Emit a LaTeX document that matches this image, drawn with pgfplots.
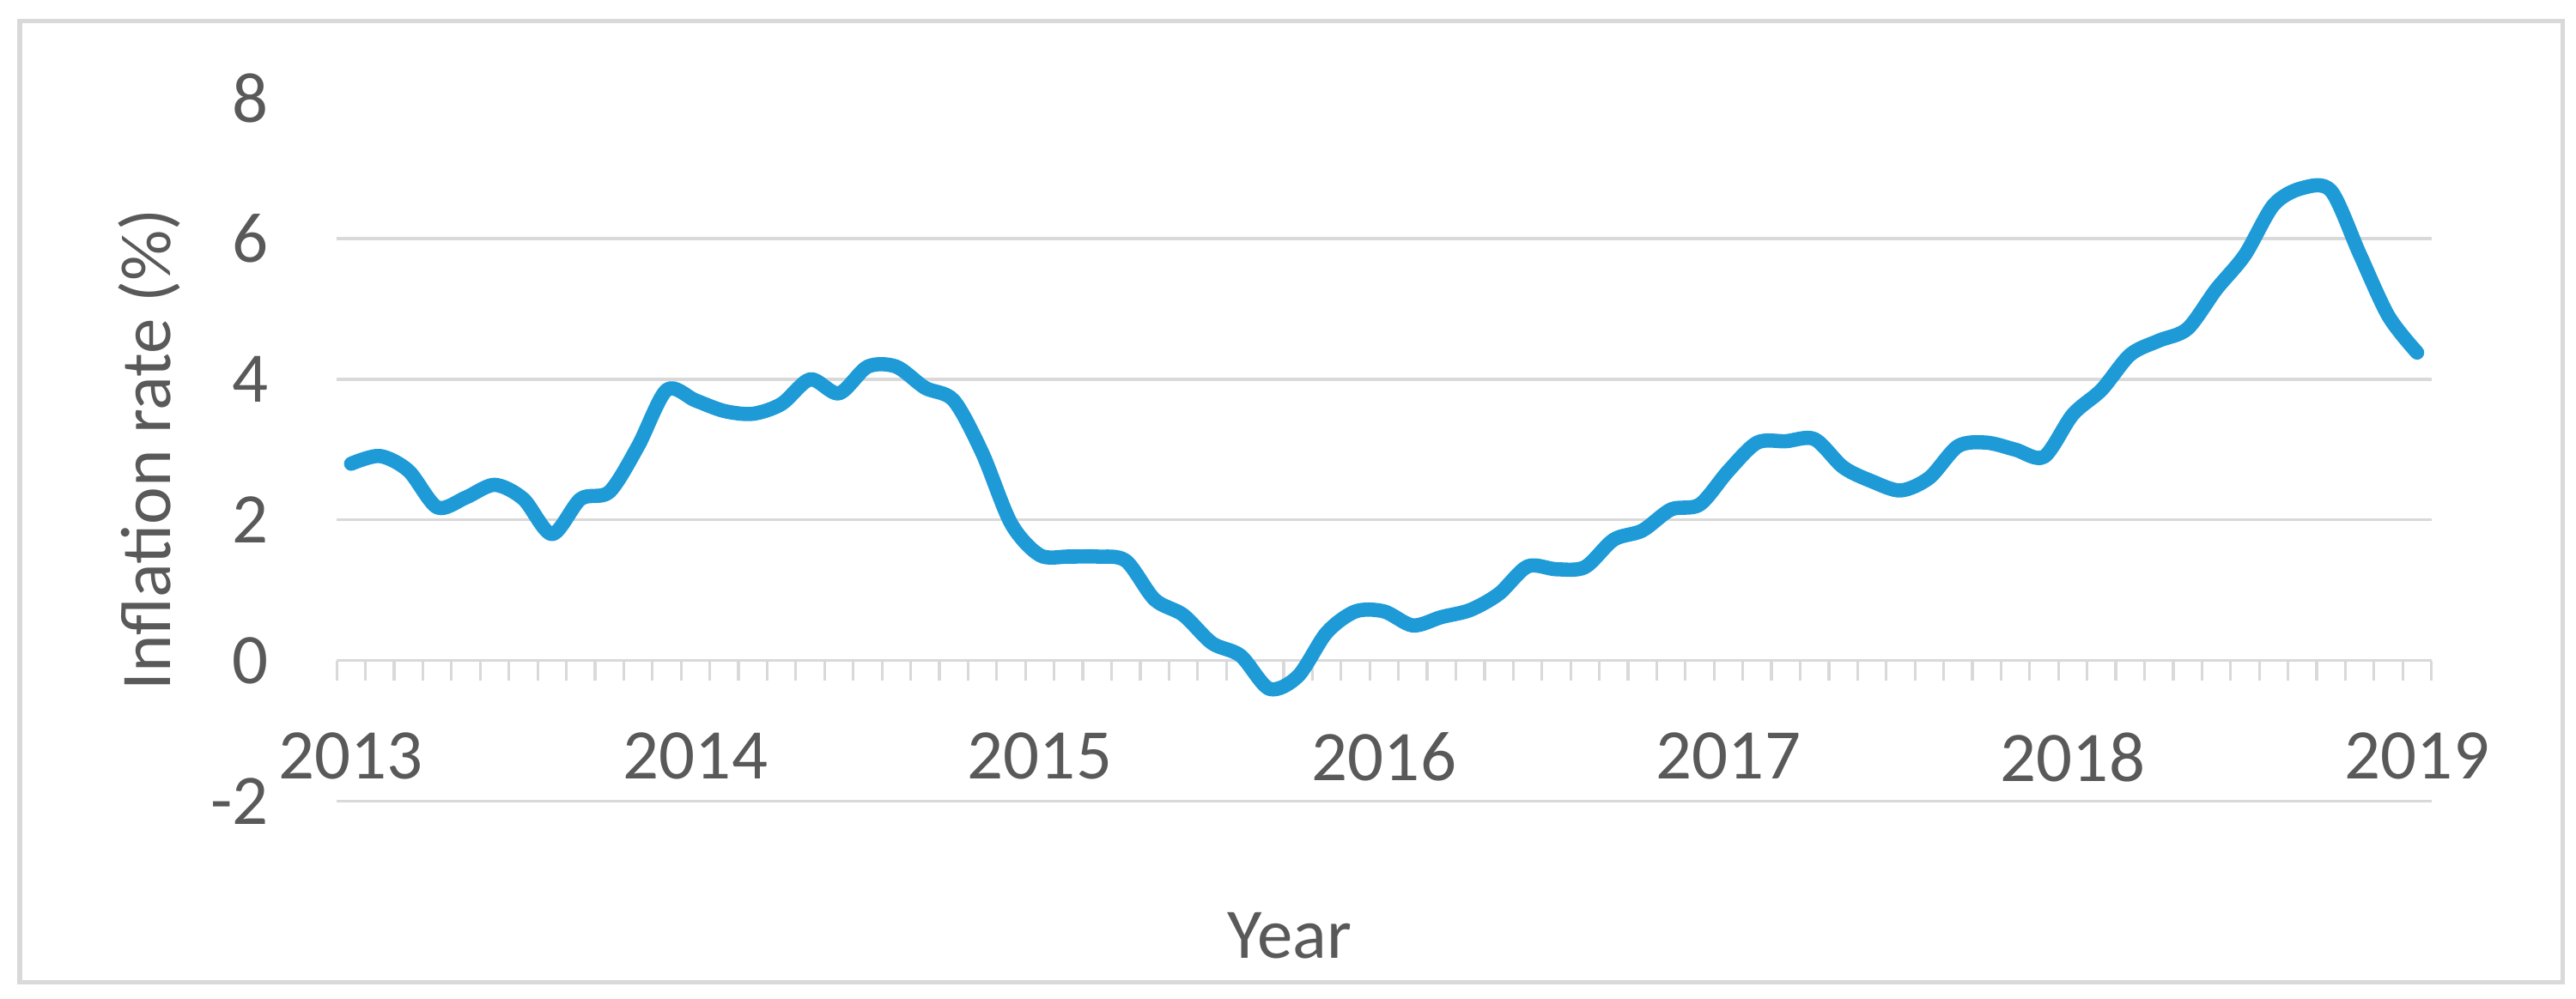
\documentclass[border=0pt]{standalone}
\usepackage{pgfplots}
\pgfplotsset{compat=1.18}
\usepackage{pgfplotstable}
\usepackage{fontspec}
\setmainfont{Carlito}
\definecolor{txt}{HTML}{595959}
\definecolor{grd}{HTML}{D9D9D9}
\definecolor{ln}{HTML}{1E9BD7}

\pgfplotstableread{
i v
0 2.80
1 2.91
2 2.70
3 2.18
4 2.32
5 2.50
6 2.30
7 1.80
8 2.30
9 2.40
10 3.05
11 3.85
12 3.70
13 3.55
14 3.51
15 3.65
16 4.00
17 3.80
18 4.18
19 4.18
20 3.88
21 3.70
22 2.95
23 1.95
24 1.50
25 1.48
26 1.48
27 1.42
28 0.87
29 0.65
30 0.25
31 0.07
32 -0.40
33 -0.22
34 0.40
35 0.70
36 0.70
37 0.50
38 0.62
39 0.72
40 0.95
41 1.34
42 1.30
43 1.33
44 1.72
45 1.85
46 2.15
47 2.22
48 2.70
49 3.10
50 3.12
51 3.15
52 2.75
53 2.55
54 2.42
55 2.60
56 3.05
57 3.10
58 3.00
59 2.90
60 3.50
61 3.85
62 4.35
63 4.55
64 4.72
65 5.28
66 5.77
67 6.48
68 6.72
69 6.68
70 5.78
71 4.90
72 4.38
}\datatable

\begin{document}
\begin{tikzpicture}
\path (0,0) rectangle (470.4pt,182.4pt);
\draw[grd, line width=0.8pt] (3.6pt,3pt) rectangle (468pt,178.5pt);
\begin{axis}[
  at={(61.5pt,36pt)}, anchor=south west,
  scale only axis, width=382.5pt, height=128.5pt,
  xmin=-0.5, xmax=72.5, ymin=-2, ymax=8,
  axis x line=middle, axis y line=left,
  x axis line style={-, draw=grd, line width=0.5pt},
  y axis line style={draw=none},
  xtick={0,12,...,72}, xticklabels={2013,2014,2015,2016,2017,2018,2019},
  minor xtick={-0.5,0.5,...,72.5},
  ytick={-2,0,2,4,6}, yticklabels={-2,0,2,4,6},
  extra y ticks={8}, extra y tick labels={8}, extra y tick style={grid=none},
  ymajorgrids, grid style={grd, line width=0.5pt},
  major tick length=0pt, minor tick length=3.7pt,
  tick align=outside,
  minor tick style={grd, line width=0.5pt},
  tick label style={font=\fontsize{13}{15}\selectfont, text=txt},
  yticklabel style={anchor=east, inner sep=0pt, xshift=-12.3pt},
  xticklabel style={anchor=north, inner sep=0pt, yshift=-13pt},
  clip=false,
]
\addplot[ln, line width=2.6pt, smooth, line cap=round, line join=round] table[x=i, y=v] {\datatable};
\end{axis}
\node[rotate=90, font=\fontsize{13}{15}\selectfont, text=txt] at (27.3pt,100.3pt) {Inflation rate (\%)};
\node[anchor=base, font=\fontsize{13}{15}\selectfont, text=txt] at (235.5pt,7.4pt) {Year};
\end{tikzpicture}
\end{document}
